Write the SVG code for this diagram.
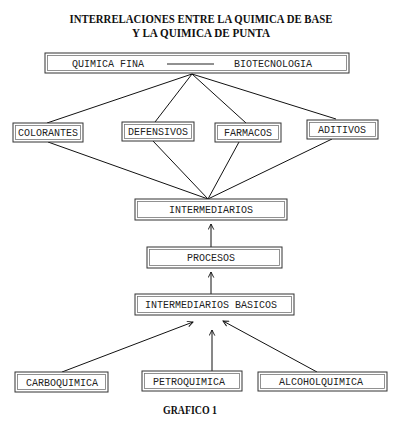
<svg xmlns="http://www.w3.org/2000/svg" width="400" height="422" viewBox="0 0 400 422">
<style>
.title{font-family:"Liberation Serif","Times New Roman",serif;font-weight:bold;font-size:12px;fill:#111}
.lbl{font-family:"Liberation Mono","Courier New",monospace;font-size:10px;fill:#222}
.bo{fill:#fff;stroke:#333;stroke-width:1}
.bi{fill:none;stroke:#777;stroke-width:0.8}
.ln{stroke:#111;stroke-width:1;fill:none}
</style>
<defs>
<marker id="ah" viewBox="0 0 10 10" refX="9" refY="5" markerWidth="7" markerHeight="7" orient="auto" markerUnits="userSpaceOnUse">
<path d="M1,1 L9,5 L1,9" fill="none" stroke="#111" stroke-width="1.3"/>
</marker>
</defs>
<rect width="400" height="422" fill="#fff"/>
<text class="title" x="201" y="23" text-anchor="middle" textLength="263" lengthAdjust="spacingAndGlyphs">INTERRELACIONES ENTRE LA QUIMICA DE BASE</text>
<text class="title" x="201" y="37" text-anchor="middle" textLength="138" lengthAdjust="spacingAndGlyphs">Y LA QUIMICA DE PUNTA</text>

<g id="connectors">
<line class="ln" x1="192" y1="74" x2="47" y2="123"/>
<line class="ln" x1="192" y1="74" x2="155" y2="122"/>
<line class="ln" x1="192" y1="74" x2="246" y2="123"/>
<line class="ln" x1="192" y1="74" x2="336" y2="119"/>
<line class="ln" x1="48" y1="142" x2="208" y2="199"/>
<line class="ln" x1="153" y1="141" x2="208" y2="199"/>
<line class="ln" x1="239" y1="142" x2="208" y2="199"/>
<line class="ln" x1="332" y1="139" x2="208" y2="199"/>
<line class="ln" x1="211" y1="247" x2="211" y2="224" marker-end="url(#ah)"/>
<line class="ln" x1="211" y1="294" x2="211" y2="272" marker-end="url(#ah)"/>
<line class="ln" x1="62" y1="372" x2="193" y2="322" marker-end="url(#ah)"/>
<line class="ln" x1="212" y1="371" x2="212" y2="330" marker-end="url(#ah)"/>
<line class="ln" x1="317" y1="372" x2="223" y2="321" marker-end="url(#ah)"/>
</g>

<g id="quimica-fina">
<rect class="bo" x="45" y="53" width="304" height="20"/>
<rect class="bi" x="47.5" y="55.5" width="299" height="15"/>
<text class="lbl" x="72" y="67">QUIMICA FINA</text>
<line x1="167" y1="64" x2="214" y2="64" stroke="#222" stroke-width="1"/>
<text class="lbl" x="234" y="67">BIOTECNOLOGIA</text>
</g>

<g id="colorantes">
<rect class="bo" x="13" y="123" width="70" height="19"/>
<rect class="bi" x="15.5" y="125.5" width="65" height="14"/>
<text class="lbl" x="48" y="136" text-anchor="middle">COLORANTES</text>
</g>
<g id="defensivos">
<rect class="bo" x="122" y="122" width="72" height="19"/>
<rect class="bi" x="124.5" y="124.5" width="67" height="14"/>
<text class="lbl" x="158" y="135" text-anchor="middle">DEFENSIVOS</text>
</g>
<g id="farmacos">
<rect class="bo" x="215" y="123" width="66" height="19"/>
<rect class="bi" x="217.5" y="125.5" width="61" height="14"/>
<text class="lbl" x="248" y="136" text-anchor="middle">FARMACOS</text>
</g>
<g id="aditivos">
<rect class="bo" x="307" y="120" width="71" height="19"/>
<rect class="bi" x="309.5" y="122.5" width="66" height="14"/>
<text class="lbl" x="342" y="133" text-anchor="middle">ADITIVOS</text>
</g>

<g id="intermediarios">
<rect class="bo" x="135" y="199" width="152" height="21"/>
<rect class="bi" x="137.5" y="201.5" width="147" height="16"/>
<text class="lbl" x="211" y="213" text-anchor="middle">INTERMEDIARIOS</text>
</g>
<g id="procesos">
<rect class="bo" x="147" y="247" width="135" height="21"/>
<rect class="bi" x="149.5" y="249.5" width="130" height="16"/>
<text class="lbl" x="211" y="261" text-anchor="middle">PROCESOS</text>
</g>
<g id="intermediarios-basicos">
<rect class="bo" x="135" y="294" width="159" height="21"/>
<rect class="bi" x="137.5" y="296.5" width="154" height="16"/>
<text class="lbl" x="211" y="308" text-anchor="middle">INTERMEDIARIOS BASICOS</text>
</g>

<g id="carboquimica">
<rect class="bo" x="15" y="372" width="93" height="20"/>
<rect class="bi" x="17.5" y="374.5" width="88" height="15"/>
<text class="lbl" x="62" y="386" text-anchor="middle">CARBOQUIMICA</text>
</g>
<g id="petroquimica">
<rect class="bo" x="142" y="371" width="100" height="20"/>
<rect class="bi" x="144.5" y="373.5" width="95" height="15"/>
<text class="lbl" x="189" y="385" text-anchor="middle">PETROQUIMICA</text>
</g>
<g id="alcoholquimica">
<rect class="bo" x="258" y="372" width="129" height="19"/>
<rect class="bi" x="260.5" y="374.5" width="124" height="14"/>
<text class="lbl" x="321" y="385" text-anchor="middle">ALCOHOLQUIMICA</text>
</g>

<text class="title" x="190" y="414" text-anchor="middle" textLength="54" lengthAdjust="spacingAndGlyphs">GRAFICO 1</text>
</svg>
